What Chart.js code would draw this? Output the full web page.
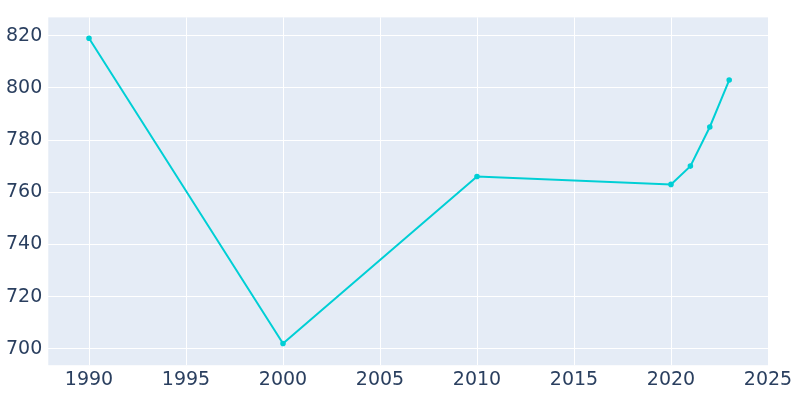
<!DOCTYPE html>
<html><head><script src="https://cdn.jsdelivr.net/npm/chart.js@4"></script>
<style>body{margin:0}#w{width:800px;height:400px}</style></head>
<body><div id="w"><canvas id="c"></canvas></div>
<script>
const years=[1990,2000,2010,2020,2021,2022,2023];
const values=[819,702,766,763,770,785,803];
const bg={id:'bg',beforeDraw(c){const a=c.chartArea,x=c.ctx;x.save();x.fillStyle='#e5ecf6';x.fillRect(a.left,a.top,a.right-a.left,a.bottom-a.top);x.restore();}};
new Chart(document.getElementById('c'),{type:'line',
data:{datasets:[{data:years.map((y,i)=>({x:y,y:values[i]})),borderColor:'#00cfd5',backgroundColor:'#00cfd5',borderWidth:2,pointRadius:1.8,tension:0}]},
options:{responsive:true,maintainAspectRatio:false,animation:false,
layout:{padding:{top:-9,right:32,bottom:6,left:0}},
plugins:{legend:{display:false},tooltip:{enabled:false}},
scales:{x:{type:'linear',min:1987.9,max:2025,afterBuildTicks(s){s.ticks=[1990,1995,2000,2005,2010,2015,2020,2025].map(v=>({value:v}));},
ticks:{color:'#2a3f5f',font:{size:19,family:'DejaVu Sans'},maxRotation:0,callback:v=>String(v)},grid:{color:'#ffffff',drawTicks:false},border:{display:false}},
y:{min:693.7,max:827,afterBuildTicks(s){s.ticks=[700,720,740,760,780,800,820].map(v=>({value:v}));},
ticks:{color:'#2a3f5f',font:{size:19,family:'DejaVu Sans'},padding:6,callback:v=>String(v)},grid:{color:'#ffffff',drawTicks:false},border:{display:false}}}},
plugins:[bg]});
</script></body></html>
